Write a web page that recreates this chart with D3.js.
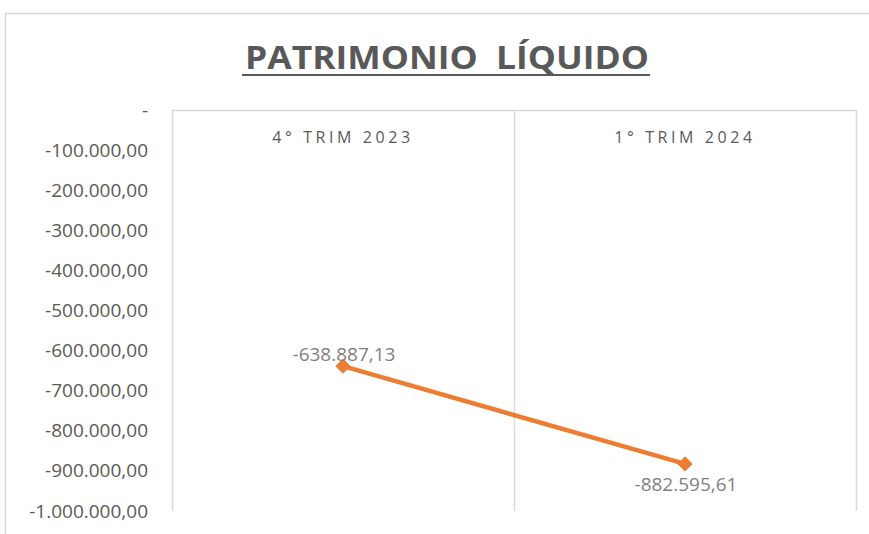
<!DOCTYPE html>
<html>
<head>
<meta charset="utf-8">
<script src="https://cdn.jsdelivr.net/npm/d3@7"></script>
<style>
  html, body { margin: 0; padding: 0; background: #fff; }
  svg { display: block; }
</style>
</head>
<body>
<svg id="chart" width="869" height="534"></svg>
<script>
// ---- data ----
const title = "PATRIMONIO  LÍQUIDO";
const categories = ["4° TRIM 2023", "1° TRIM 2024"];
const values = [-638887.13, -882595.61];
const dataLabels = ["-638.887,13", "-882.595,61"];
const yTicks = [0, -100000, -200000, -300000, -400000, -500000, -600000, -700000, -800000, -900000, -1000000];
const yTickLabels = ["-", "-100.000,00", "-200.000,00", "-300.000,00", "-400.000,00", "-500.000,00", "-600.000,00", "-700.000,00", "-800.000,00", "-900.000,00", "-1.000.000,00"];

// ---- layout ----
const W = 869, H = 534;
const plot = { left: 172, right: 856, top: 110, bottom: 511 };
const font = "'Open Sans', 'Noto Sans', sans-serif";
const grey = "#595959";
const gridC = "#d9d9d9";
const orange = "#ED7D31";

const svg = d3.select("#chart");

// outer chart border
svg.append("rect").attr("x", 5.5).attr("y", 13.5).attr("width", 900).attr("height", 600)
  .attr("fill", "#fff").attr("stroke", gridC).attr("stroke-width", 1.5);

// title
svg.append("text")
  .attr("x", 245).attr("y", 69)
  .attr("font-family", font).attr("font-weight", 700).attr("font-size", 33)
  .attr("fill", grey)
  .attr("textLength", 404).attr("lengthAdjust", "spacingAndGlyphs")
  .style("white-space", "pre")
  .text(title);
svg.append("line").attr("x1", 242).attr("x2", 650).attr("y1", 75).attr("y2", 75)
  .attr("stroke", grey).attr("stroke-width", 2);

// scales
const x = d3.scaleBand().domain(categories).range([plot.left, plot.right]).padding(0);
const y = d3.scaleLinear().domain([0, -1000000]).range([plot.top, plot.bottom]);

// vertical gridlines at category boundaries
const bounds = [plot.left].concat(categories.map(c => x(c) + x.bandwidth()));
svg.append("g").selectAll("line").data(bounds).join("line")
  .attr("x1", d => d + 0.5).attr("x2", d => d + 0.5)
  .attr("y1", plot.top).attr("y2", plot.bottom)
  .attr("stroke", gridC).attr("stroke-width", 1.5);

// category axis at top (value 0)
const xAxis = svg.append("g").attr("transform", `translate(0,${y(0)})`)
  .call(d3.axisBottom(x).tickSize(0).tickPadding(0));
xAxis.select(".domain").attr("stroke", gridC).attr("stroke-width", 1.5);
xAxis.selectAll("text")
  .attr("y", 33)
  .attr("dy", 0)
  .attr("font-family", font).attr("font-size", 16)
  .attr("fill", grey)
  .attr("letter-spacing", "3.6px");

// y axis
const yAxis = svg.append("g").attr("transform", `translate(${plot.left},0)`)
  .call(d3.axisLeft(y).tickValues(yTicks).tickSize(0).tickPadding(24)
    .tickFormat((d, i) => yTickLabels[i]));
yAxis.select(".domain").remove();
yAxis.selectAll("text")
  .attr("font-family", font).attr("font-size", 19)
  .attr("fill", grey);

// line
const pts = categories.map((c, i) => ({ c, v: values[i], lab: dataLabels[i] }));
svg.append("path").datum(pts)
  .attr("fill", "none").attr("stroke", orange).attr("stroke-width", 4.5)
  .attr("stroke-linecap", "round")
  .attr("d", d3.line().x(d => x(d.c) + x.bandwidth() / 2).y(d => y(d.v)));

// diamond markers
svg.append("g").selectAll("path").data(pts).join("path")
  .attr("transform", d => `translate(${x(d.c) + x.bandwidth() / 2},${y(d.v)})`)
  .attr("d", d3.symbol(d3.symbolDiamond2, 130))
  .attr("fill", orange).attr("stroke", orange).attr("stroke-width", 1);

// data labels
const offs = [-5, 27];
svg.append("g").selectAll("text").data(pts).join("text")
  .attr("x", d => x(d.c) + x.bandwidth() / 2 + 1)
  .attr("y", (d, i) => y(d.v) + offs[i])
  .attr("text-anchor", "middle")
  .attr("font-family", font).attr("font-size", 19)
  .attr("fill", "#7f7f7f")
  .text(d => d.lab);
</script>
</body>
</html>
